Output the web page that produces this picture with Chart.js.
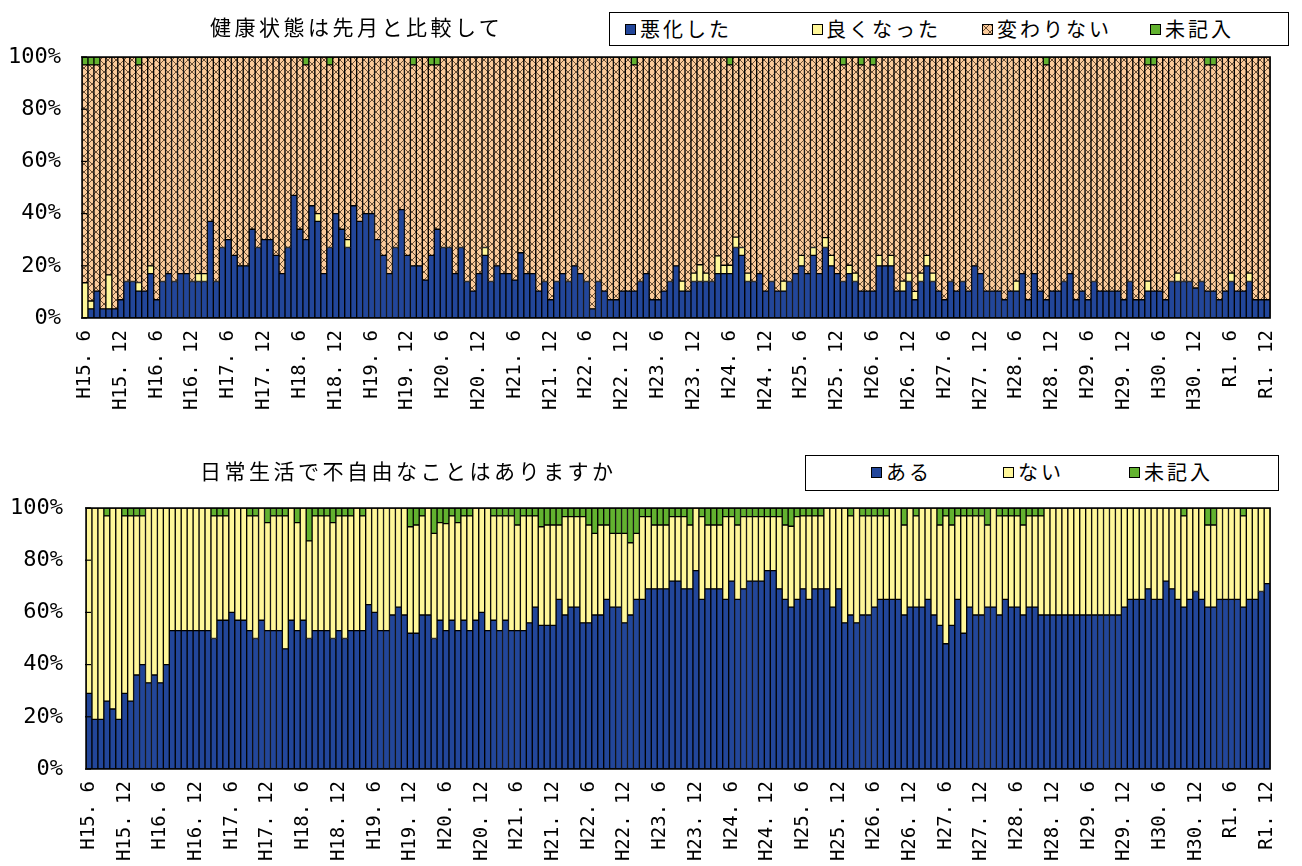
<!DOCTYPE html>
<html><head><meta charset="utf-8">
<script src="https://cdn.jsdelivr.net/npm/chart.js@4/dist/chart.umd.min.js"></script>
<style>
body{margin:0;background:#fff;width:1302px;height:866px;position:relative;overflow:hidden;font-family:"Noto Sans CJK JP",sans-serif;}
canvas{position:absolute;left:0;}
.t{position:absolute;font-size:21px;line-height:21px;letter-spacing:3.5px;color:#000;white-space:nowrap;}
.lg{position:absolute;border:1.5px solid #000;background:#fff;box-sizing:border-box;}
.it{position:absolute;font-size:20px;line-height:20px;letter-spacing:3px;white-space:nowrap;}
.mk{position:absolute;width:11px;height:11px;box-sizing:border-box;border:1px solid #000;}
</style></head>
<body>
<canvas id="c1" width="1302" height="440" style="top:0"></canvas>
<canvas id="c2" width="1302" height="433" style="top:433px"></canvas>

<div class="t" style="left:210px;top:16px">健康状態は先月と比較して</div>
<div class="lg" style="left:609px;top:12px;width:680px;height:34px"></div>
<div class="mk" style="left:625px;top:24px;background:#22469a"></div><div class="it" style="left:640px;top:19px">悪化した</div>
<div class="mk" style="left:812px;top:24px;background:#FFF799"></div><div class="it" style="left:826px;top:19px">良くなった</div>
<canvas id="hsw" width="11" height="11" style="left:982px;top:24px"></canvas><div class="it" style="left:997px;top:19px">変わりない</div>
<div class="mk" style="left:1150px;top:24px;background:#62B22F"></div><div class="it" style="left:1165px;top:19px">未記入</div>

<div class="t" style="left:200px;top:460px">日常生活で不自由なことはありますか</div>
<div class="lg" style="left:805px;top:455px;width:474px;height:36px"></div>
<div class="mk" style="left:871px;top:467px;background:#22469a"></div><div class="it" style="left:886px;top:462px">ある</div>
<div class="mk" style="left:1003px;top:467px;background:#FFF799"></div><div class="it" style="left:1018px;top:462px">ない</div>
<div class="mk" style="left:1129px;top:467px;background:#62B22F"></div><div class="it" style="left:1144px;top:462px">未記入</div>

<script>
// ---- tick labels shown every 6 months ----
const tickLabels = ["H15. 6","H15. 12","H16. 6","H16. 12","H17. 6","H17. 12","H18. 6","H18. 12","H19. 6","H19. 12",
"H20. 6","H20. 12","H21. 6","H21. 12","H22. 6","H22. 12","H23. 6","H23. 12","H24. 6","H24. 12",
"H25. 6","H25. 12","H26. 6","H26. 12","H27. 6","H27. 12","H28. 6","H28. 12","H29. 6","H29. 12",
"H30. 6","H30. 12","R1. 6","R1. 12"];

// ---- monthly categories H15.6 .. R1.12 ----
const categories = [];
for (let i = 0; i < 199; i++) {
  const k = 5 + i, y = 2003 + Math.floor(k / 12), m = k % 12 + 1;
  categories.push((y === 2019 && m >= 5) ? ("R1. " + m) : ("H" + (y - 1988) + ". " + m));
}

// ---- 健康状態は先月と比較して (%) ----
const worse = [0,3.5,10.3,3.5,3.5,3.5,7,14,14,10.3,
10.3,17,7,14,17,14,17,17,14,14,
14,37,14,27,30,24,20,20,34,27,
30,30,24,17,27,47,34,30,43,37,
17,27,40,34,27,43,37,40,40,30,
24,17,27,41.5,24,20,20,14.5,24,34,
27,27,17,27,14,10.3,17,24,14,20,
17,17,14.5,25,17,17,10.3,14,7,14,
17,14,20,17,14,3.5,14,10.3,7,7,
10.3,10.3,10.3,14,17,7,7,10.3,14,20,
10.3,10.3,14,14,14,14,17,17,17,27,
24,14,14,17,10.3,14,10.3,10.3,14,17,
20,17,24,17,27,20,17,14,17,14,
10.3,10.3,10.3,20,20,20,10.3,10.3,14,7,
14,20,14,10.3,7,14,10.3,14,10.3,20,
17,10.3,10.3,10.3,7,10.3,10.3,17,7,17,
10.3,7,10.3,10.3,14,17,7,10.3,7,14,
10.3,10.3,10.3,10.3,7,14,7,7,10.3,10.3,
10.3,7,14,14,14,14,11.5,14,10.3,10.3,
7,10.3,14,10.3,10.3,14,7,7,7];

const better = [13.5,3,0,0,13,0,0,0,0,3.3,
0,3,0,0,0,0,0,0,0,3,
3,0,0,0,0,0,0,0,0,0,
0,0,0,0,0,0,0,0,0,3,
0,0,0,0,3,0,0,0,0,0,
0,0,0,0,0,0,0,0,0,0,
0,0,0,0,0,0,0,3,0,0,
0,0,0,0,0,0,0,0,0,0,
0,0,0,0,0,0,0,0,0,0,
0,0,0,0,0,0,0,0,0,0,
3.8,0,3.2,6.4,3.2,0,6.8,3.2,3.2,4,
3,3.2,0,0,0,0,0,3.8,0,0,
4,0,3,0,3.8,4,0,0,3.2,3.2,
0,0,0,4,0,4,0,3.8,3.2,3.2,
3.2,4,3.2,0,0,0,0,0,0,0,
0,0,0,0,0,0,3.8,0,0,0,
0,0,0,0,0,0,0,0,0,0,
0,0,0,0,0,0,0,0,3.8,0,
0,0,0,3.2,0,0,0,0,0,0,
0,0,3.2,0,0,3.2,0,0,0];

const same = [83.5,90.5,86.7,96.5,83.5,96.5,93,86,86,83.4,
89.7,80,93,86,83,86,83,83,86,83,
83,63,86,73,70,76,80,80,66,73,
70,70,76,83,73,53,66,67,57,60,
83,70,60,66,70,57,63,60,60,70,
76,83,73,58.5,76,77,80,85.5,73,63,
73,73,83,73,86,89.7,83,73,86,80,
83,83,85.5,75,83,83,89.7,86,93,86,
83,86,80,83,86,96.5,86,89.7,93,93,
89.7,89.7,86.7,86,83,93,93,89.7,86,80,
85.9,89.7,82.8,79.6,82.8,86,76.2,79.8,76.8,69,
73,82.8,86,83,89.7,86,89.7,85.9,86,83,
76,83,73,83,69.2,76,83,83,79.8,82.8,
86.7,89.7,86.7,76,80,76,89.7,85.9,82.8,89.8,
82.8,76,82.8,89.7,93,86,89.7,86,89.7,80,
83,89.7,89.7,89.7,93,89.7,85.9,83,93,83,
89.7,90,89.7,89.7,86,83,93,89.7,93,86,
89.7,89.7,89.7,89.7,93,86,93,93,82.9,86.7,
89.7,93,86,82.8,86,86,88.5,86,86.7,86.7,
93,89.7,82.8,89.7,89.7,82.8,93,93,93];

const blankTop = [3,3,3,0,0,0,0,0,0,3,
0,0,0,0,0,0,0,0,0,0,
0,0,0,0,0,0,0,0,0,0,
0,0,0,0,0,0,0,3,0,0,
0,3,0,0,0,0,0,0,0,0,
0,0,0,0,0,3,0,0,3,3,
0,0,0,0,0,0,0,0,0,0,
0,0,0,0,0,0,0,0,0,0,
0,0,0,0,0,0,0,0,0,0,
0,0,3,0,0,0,0,0,0,0,
0,0,0,0,0,0,0,0,3,0,
0,0,0,0,0,0,0,0,0,0,
0,0,0,0,0,0,0,3,0,0,
3,0,3,0,0,0,0,0,0,0,
0,0,0,0,0,0,0,0,0,0,
0,0,0,0,0,0,0,0,0,0,
0,3,0,0,0,0,0,0,0,0,
0,0,0,0,0,0,0,0,3,3,
0,0,0,0,0,0,0,0,3,3,
0,0,0,0,0,0,0,0,0];

// ---- 日常生活で不自由なことはありますか (%) ----
const yes = [29,19,19,26,23,19,29,26,36,40,
33,36,33,40,53,53,53,53,53,53,
53,50,57,57,60,57,57,53,50,57,
53,53,53,46,57,53,57,50,53,53,
53,50,53,50,53,53,53,63,60,53,
53,59,62,59,52,52,59,59,50,57,
53,57,53,57,53,57,60,53,57,53,
57,53,53,53,56,62,55,55,55,65,
59,62,62,56,56,59,59,65,62,62,
56,59,65,65,69,69,69,69,72,72,
69,69,76,65,69,69,69,65,72,65,
69,72,72,72,76,76,69,65,62,65,
69,65,69,69,69,62,69,56,59,56,
59,59,62,65,65,65,65,59,62,62,
62,65,59,55,48,55,65,52,62,59,
59,62,62,59,65,62,62,59,62,62,
59,59,59,59,59,59,59,59,59,59,
59,59,59,59,62,65,65,65,69,65,
65,72,69,65,62,65,68,65,62,62,
65,65,65,65,62,65,65,68,71];

const no = [71,81,81,71,77,81,68,71,61,57,
67,64,67,60,47,47,47,47,47,47,
47,47,40,40,40,43,43,44,47,43,
41.4,44,44,51,43,41.4,43,37.4,44,44,
44,44.4,44,47,44,47,44,37,40,47,
47,41,38,41,40.8,41.5,38,41,40.3,37.4,
41,40,41.4,40,44,43,40,47,40,44,
40,44,40.5,44,41,35,37.8,38.5,38.5,28.5,
37.7,34.7,34.7,40.7,37.5,31.3,34.5,28.5,28.3,28.3,
34.3,27.7,25.3,31.7,27.7,24.5,24.5,24.5,24.7,24.7,
27.7,24.5,24,31.7,24.5,24.5,24.5,31.7,24.7,28.5,
27.7,24.7,24.7,24.7,20.7,20.7,27.7,28.5,31,31.7,
28,32,28,28,31,38,31,44,38,44,
38,38,35,32,32,35,35,34.5,38,35,
38,35,41,38.5,49,38.5,32,45,35,38,
38,31.5,38,38,32,35,35,34.5,35,35,
38,41,41,41,41,41,41,41,41,41,
41,41,41,41,38,35,35,35,31,35,
35,28,31,35,35,35,32,35,31.5,31.5,
35,35,35,35,35,35,35,32,29];

const blankBot = [0,0,0,3,0,0,3,3,3,3,
0,0,0,0,0,0,0,0,0,0,
0,3,3,3,0,0,0,3,3,0,
5.6,3,3,3,0,5.6,0,12.6,3,3,
3,5.6,3,3,3,0,3,0,0,0,
0,0,0,0,7.2,6.5,3,0,9.7,5.6,
6,3,5.6,3,3,0,0,0,3,3,
3,3,6.5,3,3,3,7.2,6.5,6.5,6.5,
3.3,3.3,3.3,3.3,6.5,9.7,6.5,6.5,9.7,9.7,
9.7,13.3,9.7,3.3,3.3,6.5,6.5,6.5,3.3,3.3,
3.3,6.5,0,3.3,6.5,6.5,6.5,3.3,3.3,6.5,
3.3,3.3,3.3,3.3,3.3,3.3,3.3,6.5,7,3.3,
3,3,3,3,0,0,0,0,3,0,
3,3,3,3,3,0,0,6.5,0,3,
0,0,0,6.5,3,6.5,3,3,3,3,
3,6.5,0,3,3,3,3,6.5,3,3,
3,0,0,0,0,0,0,0,0,0,
0,0,0,0,0,0,0,0,0,0,
0,0,0,0,3,0,0,0,6.5,6.5,
0,0,0,0,3,0,0,0,0];

const yTicks = [0, 20, 40, 60, 80, 100];

const BLUE = '#22469a', YELLOW = '#FFF799', GREEN = '#62B22F', PEACH = '#FBCB9B';

function makeHatch(ctx) {
  const c = document.createElement('canvas');
  c.width = 8; c.height = 8;
  const x = c.getContext('2d');
  x.fillStyle = PEACH; x.fillRect(0, 0, 8, 8);
  x.strokeStyle = 'rgba(70,48,28,0.8)'; x.lineWidth = 1;
  x.beginPath(); x.moveTo(0, 0); x.lineTo(8, 8); x.moveTo(8, 0); x.lineTo(0, 8); x.stroke();
  return ctx.createPattern(c, 'repeat');
}

// legend swatch for hatched series
(function () {
  const sw = document.getElementById('hsw'), sx = sw.getContext('2d');
  sx.fillStyle = makeHatch(sx); sx.fillRect(0, 0, 11, 11);
  sx.strokeStyle = '#000'; sx.lineWidth = 1; sx.strokeRect(0.5, 0.5, 10, 10);
})();

const framePlugin = {
  id: 'frame',
  afterDatasetsDraw(chart) {
    const { ctx, chartArea: a } = chart;
    ctx.save();
    ctx.strokeStyle = '#000'; ctx.lineWidth = 1.5;
    ctx.strokeRect(a.left, a.top, a.right - a.left, a.bottom - a.top);
    ctx.lineWidth = 1.2;
    yTicks.forEach(v => {
      const y = chart.scales.y.getPixelForValue(v);
      ctx.beginPath(); ctx.moveTo(a.left - 1, y); ctx.lineTo(a.left + 5, y); ctx.stroke();
    });
    ctx.restore();
  }
};

function ds(label, data, color) {
  return { label, data, backgroundColor: color, borderColor: '#000', borderWidth: 1,
           borderSkipped: false, categoryPercentage: 1, barPercentage: 1 };
}

function makeChart(id, datasets, pad, yWidth, xHeight, yPad, xPad) {
  const ctx = document.getElementById(id).getContext('2d');
  return new Chart(ctx, {
    type: 'bar',
    data: { labels: categories, datasets },
    options: {
      responsive: false, animation: false, devicePixelRatio: 1,
      layout: { padding: pad },
      plugins: { legend: { display: false }, title: { display: false }, tooltip: { enabled: false } },
      scales: {
        x: {
          stacked: true,
          grid: { display: false, drawTicks: false }, border: { display: false },
          afterFit: s => { s.height = xHeight; },
          ticks: {
            autoSkip: false, minRotation: 90, maxRotation: 90, padding: xPad, color: '#000',
            font: { family: 'DejaVu Sans Mono', size: 19 },
            callback: (v, i) => (i % 6 === 0 ? tickLabels[i / 6] : '')
          }
        },
        y: {
          stacked: true, min: 0, max: 100,
          grid: { display: false, drawTicks: false }, border: { display: false },
          afterFit: s => { s.width = yWidth; },
          afterBuildTicks: s => { s.ticks = yTicks.map(v => ({ value: v })); },
          ticks: { padding: yPad, color: '#000', font: { family: 'DejaVu Sans Mono', size: 22 },
                   callback: v => v + '%' }
        }
      }
    },
    plugins: [framePlugin]
  });
}

const ctx1 = document.getElementById('c1').getContext('2d');
makeChart('c1', [
  ds('悪化した', worse, BLUE),
  ds('良くなった', better, YELLOW),
  ds('変わりない', same, makeHatch(ctx1)),
  ds('未記入', blankTop, GREEN)
], { left: 0, right: 13, top: 57, bottom: 0 }, 82, 122, 21, 12);

makeChart('c2', [
  ds('ある', yes, BLUE),
  ds('ない', no, YELLOW),
  ds('未記入', blankBot, GREEN)
], { left: 0, right: 16, top: 75, bottom: 0 }, 86, 97, 23, 12);
</script>
</body></html>
